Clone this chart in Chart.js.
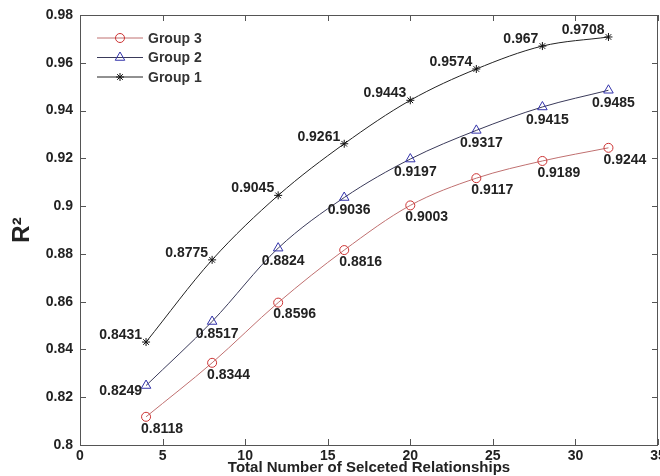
<!DOCTYPE html>
<html>
<head>
<meta charset="utf-8">
<script src="https://cdn.jsdelivr.net/npm/chart.js@4.4.1/dist/chart.umd.min.js"></script>
<style>
  html, body { margin: 0; padding: 0; background: #fff; overflow: hidden; }
  #wrap { width: 660px; height: 476px; }
</style>
</head>
<body>
<div id="wrap"><canvas id="chart"></canvas></div>
<script>
// --- Data ---
const relationships = [4, 8, 12, 16, 20, 24, 28, 32];
const group1 = [0.8431, 0.8775, 0.9045, 0.9261, 0.9443, 0.9574, 0.967, 0.9708];
const group2 = [0.8249, 0.8517, 0.8824, 0.9036, 0.9197, 0.9317, 0.9415, 0.9485];
const group3 = [0.8118, 0.8344, 0.8596, 0.8816, 0.9003, 0.9117, 0.9189, 0.9244];
const xTicks = [0, 5, 10, 15, 20, 25, 30, 35];
const yTicks = [0.8, 0.82, 0.84, 0.86, 0.88, 0.9, 0.92, 0.94, 0.96, 0.98];

const FONT = "'Liberation Sans', Arial, sans-serif";

const toPoints = (vals) => vals.map((v, i) => ({ x: relationships[i], y: v }));

// draws inward ticks on all four sides (MATLAB style box)
const boxTicks = {
    id: 'boxTicks',
    afterDraw(chart) {
        const { ctx, chartArea: a, scales } = chart;
        ctx.save();
        ctx.strokeStyle = '#555';
        ctx.lineWidth = 1;
        ctx.strokeRect(a.left + 0.5, a.top + 0.5, a.right - a.left - 1, a.bottom - a.top);
        ctx.beginPath();
        xTicks.forEach(t => {
            const px = Math.round(scales.x.getPixelForValue(t)) + 0.5;
            ctx.moveTo(px, a.bottom); ctx.lineTo(px, a.bottom - 6);
            ctx.moveTo(px, a.top); ctx.lineTo(px, a.top + 6);
        });
        yTicks.forEach(t => {
            const py = Math.round(scales.y.getPixelForValue(t)) + 0.5;
            ctx.moveTo(a.left, py); ctx.lineTo(a.left + 6, py);
            ctx.moveTo(a.right, py); ctx.lineTo(a.right - 6, py);
        });
        ctx.stroke();
        ctx.restore();
    }
};

// value labels next to each point
const valueLabels = {
    id: 'valueLabels',
    afterDatasetsDraw(chart) {
        const { ctx } = chart;
        ctx.save();
        ctx.font = 'bold 14px ' + FONT;
        ctx.fillStyle = '#222';
        ctx.textBaseline = 'middle';
        chart.data.datasets.forEach((ds, di) => {
            const meta = chart.getDatasetMeta(di);
            meta.data.forEach((pt, i) => {
                const txt = String(ds.data[i].y);
                if (ds.label === 'Group 1') {
                    ctx.textAlign = 'right';
                    ctx.fillText(txt, pt.x - 4, pt.y - 7);
                } else if (ds.label === 'Group 2') {
                    if (i === 0) {
                        ctx.textAlign = 'right';
                        ctx.fillText(txt, pt.x - 4, pt.y + 6);
                    } else {
                        ctx.textAlign = 'center';
                        ctx.fillText(txt, pt.x + 5, pt.y + 13);
                    }
                } else {
                    ctx.textAlign = 'left';
                    ctx.fillText(txt, pt.x - 5, pt.y + 12);
                }
            });
        });
        ctx.restore();
    }
};

// legend box drawn inside the plot, top left
const insideLegend = {
    id: 'insideLegend',
    afterDraw(chart) {
        const { ctx, chartArea: a } = chart;
        const order = [2, 1, 0];
        ctx.save();
        order.forEach((di, row) => {
            const ds = chart.data.datasets[di];
            const y = a.top + 23 + row * 19.5;
            const x0 = a.left + 17, x1 = a.left + 63;
            ctx.strokeStyle = ds.borderColor;
            ctx.lineWidth = 1;
            ctx.beginPath();
            ctx.moveTo(x0, y); ctx.lineTo(x1, y);
            ctx.stroke();
            ctx.strokeStyle = ds.pointBorderColor;
            ctx.fillStyle = 'rgba(0,0,0,0)';
            Chart.helpers.drawPoint(ctx, {
                pointStyle: ds.pointStyle,
                radius: ds.pointRadius,
                borderWidth: 1
            }, (x0 + x1) / 2, y);
            ctx.fillStyle = '#333';
            ctx.font = 'bold 14px ' + FONT;
            ctx.textAlign = 'left';
            ctx.textBaseline = 'middle';
            ctx.fillText(ds.label, x1 + 5, y + 1);
        });
        ctx.restore();
    }
};

function series(label, vals, line, mark, style, r) {
    return {
        label: label,
        data: toPoints(vals),
        borderColor: line,
        borderWidth: 1,
        pointStyle: style,
        pointRadius: r,
        pointBorderColor: mark,
        pointBackgroundColor: 'rgba(0,0,0,0)',
        pointBorderWidth: 1,
        fill: false,
        cubicInterpolationMode: 'monotone'
    };
}

const ctx = document.getElementById('chart').getContext('2d');
const chart = new Chart(ctx, {
    type: 'line',
    data: {
        datasets: [
            series('Group 1', group1, '#222', '#111', 'star', 4),
            series('Group 2', group2, '#3a3a5a', '#3333aa', 'triangle', 5.5),
            series('Group 3', group3, '#c07070', '#cc3333', 'circle', 4.5)
        ]
    },
    options: {
        responsive: true,
        maintainAspectRatio: false,
        animation: false,
        layout: { padding: { top: 15, right: 2, left: 0, bottom: 0 }, autoPadding: false },
        plugins: {
            legend: { display: false },
            tooltip: { enabled: false }
        },
        scales: {
            x: {
                type: 'linear',
                min: 0, max: 35,
                afterBuildTicks: (s) => { s.ticks = xTicks.map(v => ({ value: v })); },
                afterFit: (s) => { s.height = 31; s.paddingLeft = 0; s.paddingRight = 0; },
                grid: { display: false, drawTicks: false },
                border: { display: false },
                ticks: {
                    color: '#222',
                    padding: 3,
                    maxRotation: 0,
                    font: { family: FONT, size: 14, weight: 'bold' }
                },
                title: {
                    display: true,
                    text: 'Total Number of Selceted Relationships',
                    color: '#222',
                    padding: { top: 0, bottom: -1 },
                    font: { family: FONT, size: 15, weight: 'bold' }
                }
            },
            y: {
                min: 0.8, max: 0.98,
                afterBuildTicks: (s) => { s.ticks = yTicks.map(v => ({ value: v })); },
                afterFit: (s) => { s.width = 80; s.paddingTop = 0; s.paddingBottom = 0; },
                grid: { display: false, drawTicks: false },
                border: { display: false },
                ticks: {
                    color: '#222',
                    padding: 7,
                    font: { family: FONT, size: 14, weight: 'bold' },
                    callback: (v) => String(Math.round(v * 100) / 100)
                },
                title: {
                    display: true,
                    text: 'R²',
                    color: '#222',
                    padding: { top: 8, bottom: 0 },
                    font: { family: FONT, size: 24, weight: 'bold' }
                }
            }
        }
    },
    plugins: [boxTicks, valueLabels, insideLegend]
});
</script>
</body>
</html>
